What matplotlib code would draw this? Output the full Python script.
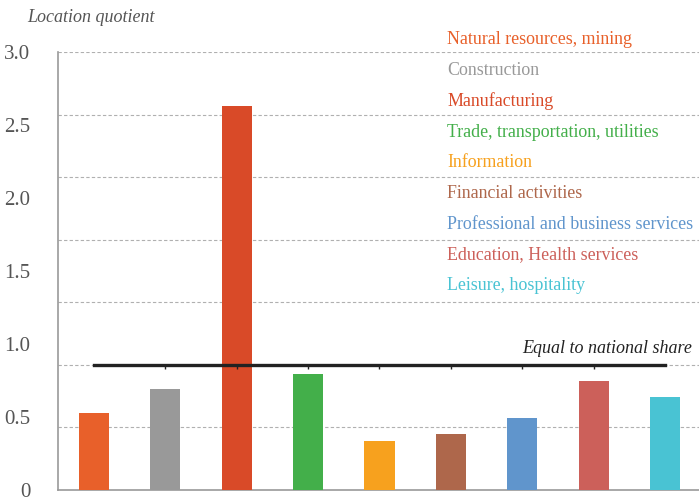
import numpy as np
import matplotlib
matplotlib.use("Agg")
import matplotlib.pyplot as plt

# industries and their location quotients
industries = ["Natural resources, mining", "Construction", "Manufacturing",
              "Trade, transportation, utilities", "Information", "Financial activities",
              "Professional and business services", "Education, Health services",
              "Leisure, hospitality"]
quotients = [0.615, 0.81, 3.07, 0.93, 0.39, 0.45, 0.575, 0.87, 0.74]
colors = ["#E8602A", "#999999", "#D94A28", "#43AF4A", "#F7A11E",
          "#AE674B", "#6095CC", "#CC605A", "#49C3D3"]
national_share = 1.0
ytick_labels = ["0", "0.5", "1.0", "1.5", "2.0", "2.5", "3.0"]

plt.rcParams["font.family"] = ["Liberation Serif", "DejaVu Serif"]

fig = plt.figure(figsize=(6.99, 5.04), dpi=100)
ax = fig.add_axes([58 / 699, 14 / 504, 643 / 699, 438 / 504])

x = np.arange(len(industries))
ax.bar(x, quotients, width=0.42, color=colors, zorder=3)

# national share reference line
ax.plot([x[0], x[-1]], [national_share, national_share], color="#222222", lw=2.4, zorder=4)
ax.plot(x[1:-1], [national_share] * (len(x) - 2), ls="none", marker=3,
        ms=3, mew=1, color="#222222", zorder=4)
ax.text(8.37, national_share + 0.06, "Equal to national share", ha="right", va="bottom",
        fontsize=13, style="italic", color="#222222")

ax.set_xlim(-0.5, 8.5)
ax.set_ylim(0, 3.5)
for g in np.arange(0.5, 3.51, 0.5):
    ax.axhline(g, color="#b0b0b0", lw=0.8, ls=(0, (3, 2)), zorder=1)

ax.set_yticks(np.linspace(0, 3.5, len(ytick_labels)))
ax.set_yticklabels(ytick_labels)
ax.tick_params(axis="y", length=0, pad=20, labelsize=15, labelcolor="#555555")
ax.set_xticks([])
for side in ["top", "right"]:
    ax.spines[side].set_visible(False)
for side in ["left", "bottom"]:
    ax.spines[side].set_color("#999999")
    ax.spines[side].set_linewidth(1.2)

fig.text(27 / 699, 1 - 17 / 504, "Location quotient", ha="left", va="center",
         fontsize=13, style="italic", color="#555555")

# coloured legend text
for i, (name, c) in enumerate(zip(industries, colors)):
    fig.text(447 / 699, 1 - (40 + i * 30.7) / 504, name, ha="left", va="center",
             fontsize=12.9, color=c)

fig.savefig("out.png", dpi=100)
